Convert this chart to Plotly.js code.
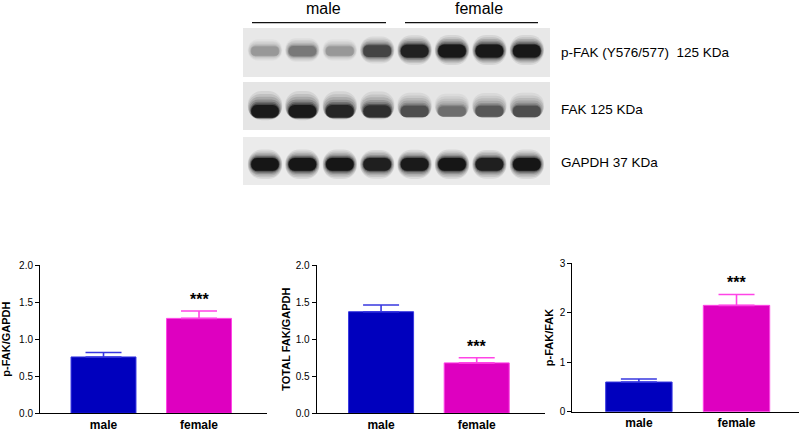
<!DOCTYPE html>
<html>
<head>
<meta charset="utf-8">
<script src="https://cdn.plot.ly/plotly-3.0.1.min.js"></script>
<style>html,body{margin:0;padding:0;background:#fff;}#chart{width:803px;height:431px;}</style>
</head>
<body>
<div id="chart"></div>
<script>
// ---------- data ----------
const groups = ['male', 'female'];

const pfakGapdh = [0.76, 1.28];
const pfakGapdhErr = [0.06, 0.10];

const totalFakGapdh = [1.37, 0.68];
const totalFakGapdhErr = [0.09, 0.07];

const pfakFak = [0.60, 2.15];
const pfakFakErr = [0.06, 0.22];

const signif = ['', '***'];

// western blot: 8 lanes (4 male, 4 female), relative band intensity 0..1
const lanes = [0, 1, 2, 3, 4, 5, 6, 7];
const blotNames = ['p-FAK (Y576/577)  125 KDa', 'FAK 125 KDa', 'GAPDH 37 KDa'];
const bandPfak  = [0.35, 0.50, 0.35, 0.75, 0.92, 0.96, 0.96, 0.96];
const bandFak   = [0.95, 0.95, 0.90, 0.85, 0.70, 0.55, 0.66, 0.70];
const bandGapdh = [0.97, 0.97, 0.97, 0.93, 0.95, 0.97, 0.93, 0.97];

// ---------- style ----------
const FONT = 'Liberation Sans, Arial, Helvetica, sans-serif';
const W = 803, H = 431;
const px = v => v / W;
const py = v => 1 - v / H;
const barColors = ['#0000BE', '#DE00C0'];
const errColors = ['#3838E0', '#FF44E6'];

const traces = [];
const annotations = [];

function addBarChart(vals, errs, xa, ya) {
  groups.forEach((g, i) => {
    traces.push({
      type: 'bar', x: [g], y: [vals[i]], xaxis: xa, yaxis: ya,
      width: 0.68,
      marker: {color: barColors[i], line: {color: errColors[i], width: 1}},
      error_y: {type: 'data', symmetric: false, array: [errs[i]], arrayminus: [0],
                color: errColors[i], thickness: 1.6, width: 18},
      showlegend: false, hoverinfo: 'x+y'
    });
    if (signif[i]) {
      annotations.push({
        xref: xa, yref: ya, x: g, y: vals[i] + errs[i], text: signif[i],
        showarrow: false, yanchor: 'bottom', yshift: 1,
        font: {family: FONT, size: 16, color: '#000', weight: 'bold'}
      });
    }
  });
}
addBarChart(pfakGapdh, pfakGapdhErr, 'x', 'y');
addBarChart(totalFakGapdh, totalFakGapdhErr, 'x2', 'y2');
addBarChart(pfakFak, pfakFakErr, 'x3', 'y3');

// blot bands: horizontal bars centred on each lane; stacked translucent layers fake the blur
const blurLayers = [
  {hw: 0.46, th: 2.3, op: 0.08, dy: 1.0},
  {hw: 0.45, th: 2.0, op: 0.10, dy: 0.8},
  {hw: 0.44, th: 1.75, op: 0.13, dy: 0.6},
  {hw: 0.42, th: 1.5, op: 0.18, dy: 0.4},
  {hw: 0.40, th: 1.3, op: 0.28, dy: 0.2},
  {hw: 0.385, th: 1.12, op: 0.45, dy: 0.1},
  {hw: 0.37, th: 1.0, op: 1.0, dy: 0}
];
function addBlot(intens, ya, yc, smear) {
  const cs = [[0, '#e2e2e2'], [0.5, '#787878'], [1, '#101010']];
  const thick = intens.map(v => (7 + 6 * v) / 48);
  blurLayers.forEach(L => {
    traces.push({
      type: 'bar', orientation: 'h', xaxis: 'x4', yaxis: ya,
      y: lanes.map(() => yc + smear * L.dy),
      base: lanes.map(l => l - L.hw),
      x: lanes.map(() => 2 * L.hw),
      width: thick.map(t => t * L.th),
      marker: {color: intens, colorscale: cs, cmin: 0, cmax: 1,
               cornerradius: '50%', line: {width: 0}},
      opacity: L.op, showlegend: false, hoverinfo: 'skip'
    });
  });
}
addBlot(bandPfak, 'y4', 0.53, 0.02);
addBlot(bandFak, 'y5', 0.39, 0.12);
addBlot(bandGapdh, 'y6', 0.43, 0.0);

// ---------- layout ----------
const yBase = {
  showline: true, linecolor: '#000', linewidth: 1, ticks: 'outside', ticklen: 4,
  tickcolor: '#000', tickwidth: 1, showgrid: false, zeroline: false,
  tickfont: {family: FONT, size: 10, color: '#000'}, fixedrange: true
};
const xBase = {
  type: 'category', showline: true, linecolor: '#000', linewidth: 1, ticks: '',
  showgrid: false, zeroline: false, fixedrange: true,
  tickfont: {family: FONT, size: 12, color: '#000', weight: 'bold'}
};
const titleFont = {family: FONT, size: 11, color: '#000', weight: 'bold'};
const yDom12 = [1 - 413.3 / H, 1 - 265 / H];
const yDom3 = [1 - 411.7 / H, 1 - 263.3 / H];
const hidden = {visible: false, fixedrange: true};

const blotBg = ['#e8e8e8', '#e5e5e5', '#ebebeb'];
const blotTop = [28, 82, 137], blotBot = [77, 130, 185];
const blotLabelY = [52, 109, 162];

const shapes = [];
blotTop.forEach((t, i) => {
  shapes.push({type: 'rect', xref: 'paper', yref: 'paper', x0: px(243), x1: px(550),
               y0: py(blotBot[i]), y1: py(t), fillcolor: blotBg[i], line: {width: 0}, layer: 'below'});
  annotations.push({xref: 'paper', yref: 'paper', x: px(559), y: py(blotLabelY[i]),
    xanchor: 'left', yanchor: 'middle', showarrow: false, text: blotNames[i],
    font: {family: FONT, size: 13.5, color: '#000'}});
});
shapes.push({type: 'line', xref: 'paper', yref: 'paper', x0: px(252), x1: px(386), y0: py(22.7), y1: py(22.7), line: {color: '#111', width: 1.3}});
shapes.push({type: 'line', xref: 'paper', yref: 'paper', x0: px(405), x1: px(538), y0: py(22.7), y1: py(22.7), line: {color: '#111', width: 1.3}});
annotations.push({xref: 'paper', yref: 'paper', x: px(323), y: py(8.5), text: groups[0], showarrow: false,
  xanchor: 'center', yanchor: 'middle', font: {family: FONT, size: 16, color: '#000'}});
annotations.push({xref: 'paper', yref: 'paper', x: px(478.5), y: py(8.5), text: groups[1], showarrow: false,
  xanchor: 'center', yanchor: 'middle', font: {family: FONT, size: 16, color: '#000'}});

const layout = {
  width: W, height: H, margin: {l: 0, r: 0, t: 0, b: 0},
  paper_bgcolor: '#fff', plot_bgcolor: 'rgba(0,0,0,0)',
  barmode: 'overlay', showlegend: false,
  font: {family: FONT, color: '#000'},
  xaxis: Object.assign({}, xBase, {domain: [px(40), px(267)], range: [-0.665, 1.712], anchor: 'y'}),
  yaxis: Object.assign({}, yBase, {domain: yDom12, range: [0, 2], dtick: 0.5, tickformat: '.1f', anchor: 'x',
    title: {text: 'p-FAK/GAPDH', font: titleFont, standoff: 8}}),
  xaxis2: Object.assign({}, xBase, {domain: [px(316.7), px(545)], range: [-0.673, 1.714], anchor: 'y2'}),
  yaxis2: Object.assign({}, yBase, {domain: yDom12, range: [0, 2], dtick: 0.5, tickformat: '.1f', anchor: 'x2',
    title: {text: 'TOTAL FAK/GAPDH', font: titleFont, standoff: 2}}),
  xaxis3: Object.assign({}, xBase, {domain: [px(572.3), px(799)], range: [-0.682, 1.640], anchor: 'y3'}),
  yaxis3: Object.assign({}, yBase, {domain: yDom3, range: [0, 3], dtick: 1, anchor: 'x3',
    title: {text: 'p-FAK/FAK', font: titleFont, standoff: 3}}),
  xaxis4: Object.assign({}, hidden, {domain: [px(243), px(550)], range: [-0.588, 7.62], anchor: 'y4'}),
  yaxis4: Object.assign({}, hidden, {domain: [py(77), py(28)], range: [0, 1], anchor: 'x4'}),
  yaxis5: Object.assign({}, hidden, {domain: [py(130), py(82)], range: [0, 1], anchor: 'x4'}),
  yaxis6: Object.assign({}, hidden, {domain: [py(185), py(137)], range: [0, 1], anchor: 'x4'}),
  shapes: shapes,
  annotations: annotations
};

Plotly.newPlot('chart', traces, layout, {displayModeBar: false, staticPlot: true});
</script>
</body>
</html>
